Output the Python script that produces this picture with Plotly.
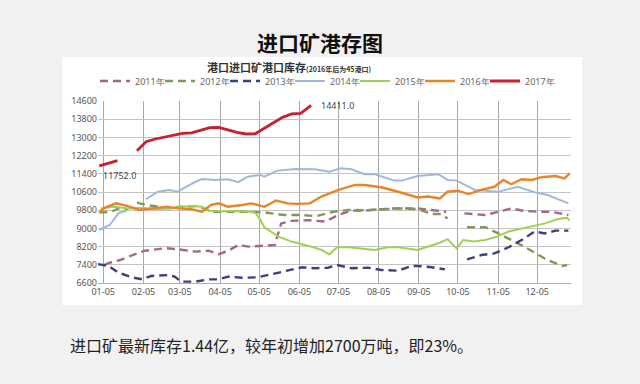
import plotly.graph_objects as go

# ---------------- data (day-of-year, value) ----------------
tick_days = [4, 35, 63, 94, 124, 155, 185, 216, 247, 277, 308, 338]
tick_labels = ["01-05", "02-05", "03-05", "04-05", "05-05", "06-05",
               "07-05", "08-05", "09-05", "10-05", "11-05", "12-05"]
y_ticks = [6600, 7400, 8200, 9000, 9800, 10600, 11400, 12200, 13000, 13800, 14600]
y_tick_labels = ["6600", "7400", "8200", "9000", "9800", "10600", "11400", "12200",
                 "13000", "13800", "14600"]

days_2011 = [5, 9, 17, 23, 30, 36, 52, 62, 75, 85, 93, 100, 108, 116, 123, 136, 141, 149, 162,
             175, 185, 195, 205, 218, 228, 246, 259, 268, None,
             282, 298, 308, 318, 328, 339, 349, 358, 362]
vals_2011 = [7400, 7490, 7610, 7760, 7900, 8020, 8130, 8080, 7980, 8020, 7870, 8010, 8270, 8200, 8230,
             8270, 9220, 9330, 9360, 9300, 9590, 9780, 9780, 9840, 9880, 9880, 9780, 9730, None,
             9660, 9590, 9730, 9880, 9770, 9730, 9730, 9630, 9590]

days_2012 = [1, 9, 16, 23, None, 30, 37, 53, 66, 76, 89, 104, 117, 130, 143, 155, 168, 181, 193,
             205, 218, 231, 246, 257, 264, 269, None,
             284, 298, 308, 318, 328, 339, 346, 357, 361]
vals_2012 = [9710, 9710, 9880, 9840, None, 10130, 10030, 9910, 9950, 9980, 9730, 9730, 9730, 9690,
             9590, 9590, 9540, 9730, 9810, 9800, 9850, 9880, 9850, 9630, 9630, 9440, None,
             9050, 9050, 8780, 8490, 8200, 7830, 7610, 7350, 7390]

days_2013 = [0, 8, 16, 26, 34, 41, 54, 59, 64, 75, 85, 93, 100, 111, 123, 136, 146, 157, 167,
             177, 184, 195, 208, 218, 231, 241, 246, 257, 267, None,
             284, 295, 305, 316, 326, 336, 344, 352, 362]
vals_2013 = [7430, 7350, 7050, 6850, 6760, 6910, 6950, 6880, 6660, 6660, 6760, 6760, 6880, 6830,
             6850, 7030, 7170, 7290, 7250, 7270, 7390, 7250, 7270, 7170, 7140, 7350, 7350, 7290,
             7200, None, 7640, 7830, 7900, 8170, 8490, 8860, 8780, 8900, 8900]

days_2014 = [1, 9, 16, 22, None, 37, 46, 55, 61, 75, 80, 90, 100, 108, 115, 125, 128, 138, 152,
             167, 178, 187, 195, 205, 213, 228, 234, 246, 262, 269, 276, 290, 308, 323, 336,
             346, 362]
vals_2014 = [8930, 9150, 9680, 9770, None, 10280, 10610, 10690, 10610, 11050, 11170, 11130,
             11160, 11030, 11270, 11350, 11270, 11540, 11610, 11600, 11490, 11640, 11600, 11380,
             11380, 11100, 11100, 11300, 11380, 11130, 11100, 10690, 10610, 10830, 10590,
             10470, 10100]

days_2015 = [2, 13, 23, 34, 44, 57, 64, 72, 80, 85, 95, 105, 116, 121, 125, 128, 139, 149, 162,
             172, 178, 184, 193, 203, 213, 223, 231, 246, 254, 263, 269, 276, 281, 289, 298,
             307, 316, 326, 336, 344, 354, 361, 363]
vals_2015 = [9880, 9950, 9880, 9910, 9840, 9880, 9950, 9980, 9950, 9780, 9770, 9770, 9730,
             9690, 9370, 9050, 8640, 8420, 8230, 8050, 7860, 8170, 8170, 8100, 8050, 8170,
             8170, 8050, 8200, 8370, 8530, 8120, 8490, 8420, 8490, 8640, 8860, 9000, 9120,
             9220, 9410, 9470, 9340]

days_2016 = [1, 5, 14, 23, 32, 41, 53, 62, 72, 80, 87, 93, 100, 111, 118, 128, 137, 146, 153,
             163, 172, 185, 198, 205, 218, 231, 246, 254, 263, 269, 277, 285, 295, 305, 312,
             318, 326, 334, 341, 352, 359, 363]
vals_2016 = [9710, 9900, 10100, 9980, 9810, 9880, 9950, 9880, 9840, 9730, 10030, 10100, 9950,
             10030, 10100, 9950, 10220, 10100, 10080, 10100, 10400, 10690, 10910, 10910, 10810,
             10610, 10360, 10400, 10320, 10610, 10660, 10510, 10690, 10830, 11130, 10940,
             11160, 11130, 11250, 11300, 11200, 11420]

days_2017 = [1, 8, 15, None, 30, 37, 44, 51, 58, 65, 72, 79, 86, 93, 100, 107, 114, 121, 128,
             135, 142, 149, 156, 164]
vals_2017 = [11752, 11880, 11975, None, 12415, 12810, 12930, 13020, 13100, 13180, 13200, 13300,
             13430, 13440, 13330, 13220, 13150, 13160, 13400, 13650, 13880, 14030, 14060, 14411]

series_names = ["2011年", "2012年", "2013年", "2014年", "2015年", "2016年", "2017年"]
series_days = [days_2011, days_2012, days_2013, days_2014, days_2015, days_2016, days_2017]
series_vals = [vals_2011, vals_2012, vals_2013, vals_2014, vals_2015, vals_2016, vals_2017]
series_colors = ["#a5668c", "#7f9a58", "#3f3f7c", "#a3b8d8", "#9fd154", "#e8842a", "#c8202e"]
series_dash = ["8px,5px", "8px,5px", "8px,5px", "solid", "solid", "solid", "solid"]
series_width = [2.4, 2.4, 2.4, 2.0, 2.0, 2.4, 2.8]
series_legend = ["legend", "legend", "legend", "legend", "legend", "legend", "legend2"]

# ---------------- figure ----------------
L, R, T, B = 98, 69, 101, 101
PW, PH = 640 - L - R, 384 - T - B


def px(x):
    return (x - L) / PW


def py(y):
    return (384 - B - y) / PH


fig = go.Figure()
for name, d, v, c, ds, w, lg in zip(series_names, series_days, series_vals,
                                    series_colors, series_dash, series_width, series_legend):
    fig.add_trace(go.Scatter(x=d, y=v, name=name, mode="lines",
                             line=dict(color=c, dash=ds, width=w),
                             connectgaps=False, legend=lg))
# invisible spacer entry closing the first legend row (keeps "2016年" from being clipped)
fig.add_trace(go.Scatter(x=[None], y=[None], name=" ", mode="lines", legend="legend",
                         line=dict(color="rgba(0,0,0,0)", width=0), hoverinfo="skip"))

fig.add_annotation(x=days_2017[0], y=vals_2017[0], text="11752.0", showarrow=False,
                   xanchor="left", yanchor="middle", xshift=2, yshift=-10,
                   font=dict(size=9, color="#444", family="Noto Sans"))
fig.add_annotation(x=days_2017[-1], y=vals_2017[-1], text="14411.0", showarrow=False,
                   xanchor="left", yanchor="middle", xshift=8, yshift=0,
                   font=dict(size=9, color="#444", family="Noto Sans"))

# texts
fig.add_annotation(xref="paper", yref="paper", x=px(320), y=py(42), text="<b>进口矿港存图</b>",
                   showarrow=False, xanchor="center", yanchor="middle",
                   font=dict(size=21, color="#111", family="Noto Sans CJK SC"))
fig.add_annotation(xref="paper", yref="paper", x=px(289), y=py(67),
                   text="<b>港口进口矿港口库存</b><span style='font-size:7px'><b>(2016年后为45港口)</b></span>",
                   showarrow=False, xanchor="center", yanchor="middle",
                   font=dict(size=11, color="#333", family="Noto Sans CJK SC"))
fig.add_annotation(xref="paper", yref="paper", x=px(68), y=py(345),
                   text="进口矿最新库存1.44亿，较年初增加2700万吨，即23%。",
                   showarrow=False, xanchor="left", yanchor="middle",
                   font=dict(size=16, color="#222", family="Noto Sans CJK SC"))

# white chart panel
fig.add_shape(type="rect", xref="paper", yref="paper", x0=px(62), x1=px(582),
              y0=py(305), y1=py(57), fillcolor="white", line=dict(width=0), layer="below")

legend_common = dict(orientation="h", yanchor="middle", xanchor="left", y=py(81),
                     bgcolor="rgba(0,0,0,0)", font=dict(size=9, color="#666"),
                     itemwidth=30, tracegroupgap=0)

fig.update_layout(
    width=640, height=384,
    margin=dict(l=L, r=R, t=T, b=B),
    paper_bgcolor="#f1f1f1", plot_bgcolor="white",
    font=dict(family="Noto Sans", size=9, color="#555"),
    showlegend=True,
    legend=dict(x=px(95), entrywidth=20, entrywidthmode="pixels", **legend_common),
    legend2=dict(x=px(485), **legend_common),
    xaxis=dict(range=[0, 364], tickmode="array", tickvals=tick_days, ticktext=tick_labels,
               showgrid=True, gridcolor="#a8a8a8", gridwidth=1, zeroline=False,
               showline=True, linecolor="#b0b0b0", ticks="",
               tickfont=dict(size=9, color="#555")),
    yaxis=dict(range=[6600, 14600], tickmode="array", tickvals=y_ticks,
               ticktext=y_tick_labels,
               showgrid=True, gridcolor="#c4c4c4", gridwidth=1, zeroline=False,
               showline=False, ticks="", tickfont=dict(size=9, color="#555")),
)

fig.write_html("out.html", config={"displayModeBar": False},
               post_script="document.body.style.margin='0px';")
